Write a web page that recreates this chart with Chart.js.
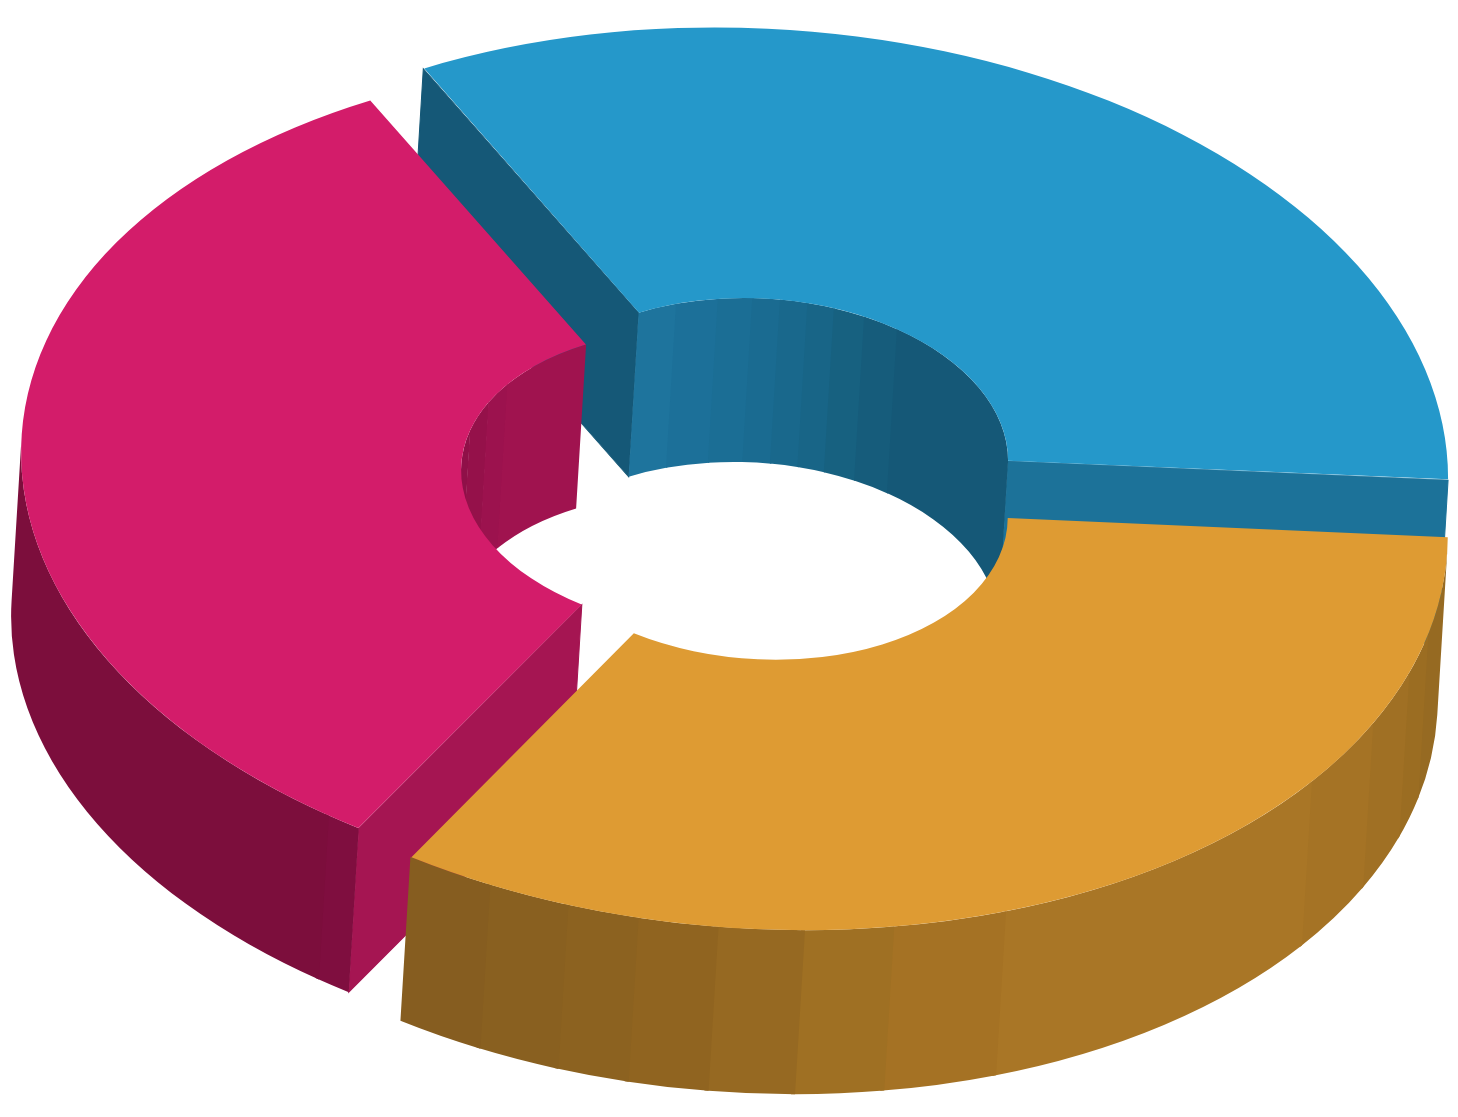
<!DOCTYPE html>
<html>
<head>
<meta charset="utf-8">
<title>3D doughnut</title>
<script src="https://cdn.jsdelivr.net/npm/chart.js@4"></script>
<style>
  html, body { margin: 0; padding: 0; background: #fff; }
  canvas { display: block; }
</style>
</head>
<body>
<canvas id="donut" width="1458" height="1117"></canvas>
<script>
// Chart values: three nearly equal segments
const categories = ['Blue', 'Orange', 'Crimson'];
const values = [33.2, 33.4, 33.4];

const topColors = ['#2598ca', '#de9b33', '#d31c6a'];
const offsets = [124, 124, 63];
// The crimson piece also sits a little lower on screen
const dropY = [0, 0, 4];

// Paint back to front so the tops cover the neighbouring walls
const paintOrder = [0, 2, 1];

// Screen projection of the flat doughnut
const radius = 396;
const view = { cx: 733, cy: 477.5, ax: 688 / 400, skew: 28 / 400, ay: 422 / 400, depthX: -10, depthY: 164 };

// Wall shading: [end angle in degrees, colour], starting from the segment start
const outerFacets = [
  [[360, '#155877']],
  [[13.6, '#966a22'], [19.2, '#9b6d22'], [26.9, '#a07024'], [36.6, '#a57325'], [69, '#a97626'], [78.7, '#a57224'],
   [86.2, '#9f7023'], [93.4, '#966922'], [100.1, '#906420'], [106.1, '#8c6220'], [113, '#896020'], [121, '#865d20']],
  [[123.4, '#7f0e3f'], [241, '#7c0e3c']]
];
const innerFacets = [
  [[-109.8, '#1e749d'], [-99.8, '#1c7099'], [-91.8, '#1b6e95'], [-85.4, '#1a6b91'], [-79, '#19688c'],
   [-72.7, '#186587'], [-65.2, '#176180'], [-56.5, '#165c7b'], [3, '#155877']],
  [[121, '#a07024']],
  [[195.4, '#8f1048'], [207.3, '#95114a'], [215.8, '#9c124e'], [241, '#a0134f']]
];
// Colours of the flat cut faces at the start and end of each segment
const cutColors = [
  ['#155877', '#1c7299'],
  ['#865d20', '#966a22'],
  ['#a51552', '#a0134f']
];

const deg = Math.PI / 180;

function wallBand(ctx, x, y, dx, dy, r, a0, a1, color) {
  ctx.beginPath();
  ctx.arc(x, y, r, a0, a1);
  ctx.arc(x + dx, y + dy, r, a1, a0, true);
  ctx.closePath();
  ctx.fillStyle = color;
  ctx.fill();
}

function drawFacets(ctx, x, y, dx, dy, r, start, end, facets) {
  let from = start;
  facets.forEach(function (f) {
    let to = Math.min(f[0] * deg, end);
    if (to > from) {
      // small overlap hides the seam between bands
      wallBand(ctx, x, y, dx, dy, r, from, Math.min(to + 0.006, end), f[1]);
      from = to;
    }
  });
}

// Part of [start, end] that lies inside the half turn beginning at lo
function facing(start, end, lo) {
  for (const base of [lo, lo - 2 * Math.PI]) {
    const a = Math.max(start, base);
    const b = Math.min(end, base + Math.PI);
    if (b > a) return [a, b];
  }
  return null;
}

function cutFace(ctx, x, y, dx, dy, inner, outer, angle, side, color) {
  const c = Math.cos(angle), s = Math.sin(angle);
  // side is -1 at the segment start and 1 at its end; skip faces turned away from the viewer
  if ((-s * dx + c * dy) * side <= 0) return;
  ctx.beginPath();
  ctx.moveTo(x + c * inner, y + s * inner);
  ctx.lineTo(x + c * outer, y + s * outer);
  ctx.lineTo(x + c * outer + dx, y + s * outer + dy);
  ctx.lineTo(x + c * inner + dx, y + s * inner + dy);
  ctx.closePath();
  ctx.fillStyle = color;
  ctx.fill();
  // hides the light seam under the top edge
  ctx.strokeStyle = color;
  ctx.lineWidth = 0.6;
  ctx.stroke();
}

const extrude = {
  id: 'extrude',
  beforeDatasetDraw(chart, args) {
    const ctx = chart.ctx;
    const arcs = args.meta.data;
    const a = view.ax, c = view.skew, d = view.ay;
    const dx = view.depthX / a;
    const dy = (view.depthY - c * dx) / d;
    const x0 = arcs[0].x, y0 = arcs[0].y;
    const phi = Math.atan2(dy, dx);

    ctx.save();
    ctx.transform(a, c, 0, d, view.cx - a * x0, view.cy - c * x0 - d * y0);
    paintOrder.forEach(function (i) {
      const arc = arcs[i];
      const mid = (arc.startAngle + arc.endAngle) / 2;
      const shift = offsets[i] / 4;
      const x = arc.x + Math.cos(mid) * shift;
      const y = arc.y + Math.sin(mid) * shift;
      // Chart.js widens an offset arc by this much when it draws it
      const grow = shift * (1 - Math.sin(arc.endAngle - arc.startAngle));
      const inner = arc.innerRadius + grow;
      const outer = arc.outerRadius + grow;

      ctx.save();
      ctx.translate(0, dropY[i] / d);
      cutFace(ctx, x, y, dx, dy, inner, outer, arc.startAngle, -1, cutColors[i][0]);
      cutFace(ctx, x, y, dx, dy, inner, outer, arc.endAngle, 1, cutColors[i][1]);
      const back = facing(arc.startAngle, arc.endAngle, phi + Math.PI / 2);
      if (back) drawFacets(ctx, x, y, dx, dy, inner, back[0], back[1], innerFacets[i]);
      const front = facing(arc.startAngle, arc.endAngle, phi - Math.PI / 2);
      if (front) drawFacets(ctx, x, y, dx, dy, outer, front[0], front[1], outerFacets[i]);
      arc.draw(ctx);
      ctx.restore();
    });
    ctx.restore();
    return false;
  }
};

new Chart(document.getElementById('donut'), {
  type: 'doughnut',
  data: {
    labels: categories,
    datasets: [{
      data: values,
      backgroundColor: topColors,
      borderWidth: 0,
      offset: offsets,
      clip: false
    }]
  },
  options: {
    responsive: false,
    animation: false,
    rotation: -29.3,
    radius: radius,
    cutout: '35.4%',
    events: [],
    layout: { padding: 0 },
    plugins: { legend: { display: false }, tooltip: { enabled: false } }
  },
  plugins: [extrude]
});
</script>
</body>
</html>
